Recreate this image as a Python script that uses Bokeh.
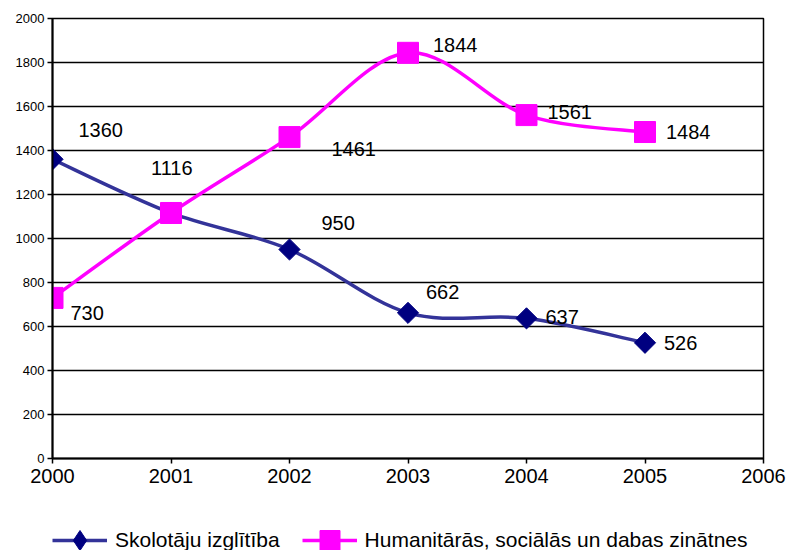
import numpy as np
from bokeh.plotting import figure
from bokeh.layouts import column
from bokeh.models import Legend, LegendItem, ColumnDataSource, FixedTicker, Range1d
from bokeh.core.properties import value
from bokeh.embed import file_html
from bokeh.resources import INLINE

years = [2000, 2001, 2002, 2003, 2004, 2005]
skolotaju = [1360, 1116, 950, 662, 637, 526]
humanitaras = [730, 1116, 1461, 1844, 1561, 1484]
series_names = ["Skolotāju izglītība", "Humanitārās, sociālās un dabas zinātnes"]
# label offsets (px) to mimic the reference label placement
sk_dx = [26, -20, 32, 18, 19, 19]
sk_dy = [-29, -45, -27, -21, -1, 0]
hu_dx = [18, 0, 42, 25, 21, 21]
hu_dy = [15, 0, 12, -8, -3, 0]
hu_show = [True, False, True, True, True, True]
y_ticks = list(range(0, 2001, 200))
x_ticks = list(range(2000, 2007))

FONT = "Liberation Sans"
BLUE_LINE, BLUE_MARK, PINK = "#333399", "#000080", "#FF00FF"
W, H, LH = 795, 495, 55

p = figure(width=W, height=H, output_backend="svg", toolbar_location=None,
           x_range=Range1d(2000, 2006), y_range=Range1d(0, 2000),
           min_border_left=52, min_border_right=W - 763, min_border_top=18, min_border_bottom=H - 458)

p.xgrid.visible = False
p.ygrid.grid_line_color = "black"
p.ygrid.grid_line_width = 1.5
p.ygrid.ticker = FixedTicker(ticks=y_ticks)
p.outline_line_color = "black"
p.outline_line_width = 1.5
p.background_fill_color = "white"
p.border_fill_color = "white"

p.yaxis.ticker = FixedTicker(ticks=y_ticks)
p.xaxis.ticker = FixedTicker(ticks=x_ticks)
for ax in (p.xaxis[0], p.yaxis[0]):
    ax.axis_line_color = "black"
    ax.axis_line_width = 2
    ax.major_tick_line_color = "black"
    ax.major_tick_line_width = 1.5
    ax.major_tick_in = 0
    ax.major_tick_out = 5
    ax.minor_tick_line_color = None
    ax.major_label_text_font = FONT
    ax.major_label_text_color = "black"
p.yaxis.major_label_text_font_size = "13px"
p.yaxis.major_label_standoff = 3
p.xaxis.major_label_text_font_size = "20px"
p.xaxis.major_label_standoff = 5


def smooth(xs, ys):
    xs = np.asarray(xs, float)
    ys = np.asarray(ys, float)
    n = len(xs)
    x0, y0, x1, y1, cx0, cy0, cx1, cy1 = [], [], [], [], [], [], [], []
    for i in range(n - 1):
        ip = max(i - 1, 0)
        inn = min(i + 2, n - 1)
        x0.append(xs[i]); y0.append(ys[i])
        x1.append(xs[i + 1]); y1.append(ys[i + 1])
        cx0.append(xs[i] + (xs[i + 1] - xs[ip]) / 6)
        cy0.append(ys[i] + (ys[i + 1] - ys[ip]) / 6)
        cx1.append(xs[i + 1] - (xs[inn] - xs[i]) / 6)
        cy1.append(ys[i + 1] - (ys[inn] - ys[i]) / 6)
    return ColumnDataSource(dict(x0=x0, y0=y0, x1=x1, y1=y1, cx0=cx0, cy0=cy0, cx1=cx1, cy1=cy1))


p.bezier(x0="x0", y0="y0", x1="x1", y1="y1", cx0="cx0", cy0="cy0", cx1="cx1", cy1="cy1",
         source=smooth(years, skolotaju), line_color=BLUE_LINE, line_width=3.5)
p.bezier(x0="x0", y0="y0", x1="x1", y1="y1", cx0="cx0", cy0="cy0", cx1="cx1", cy1="cy1",
         source=smooth(years, humanitaras), line_color=PINK, line_width=3.5)

p.scatter(years, skolotaju, marker="square", angle=np.pi / 4, size=15,
          fill_color=BLUE_MARK, line_color=BLUE_MARK)
p.scatter(years, humanitaras, marker="square", size=21, fill_color=PINK, line_color=PINK)

sk_src = ColumnDataSource(dict(x=years, y=skolotaju, t=[str(v) for v in skolotaju], dx=sk_dx, dy=sk_dy))
p.text(x="x", y="y", text="t", x_offset="dx", y_offset="dy", source=sk_src,
       text_font=value(FONT), text_font_size="20px", text_color="black",
       text_align="left", text_baseline="middle")
hx = [x for x, s in zip(years, hu_show) if s]
hy = [y for y, s in zip(humanitaras, hu_show) if s]
hdx = [d for d, s in zip(hu_dx, hu_show) if s]
hdy = [d for d, s in zip(hu_dy, hu_show) if s]
hu_src = ColumnDataSource(dict(x=hx, y=hy, t=[str(v) for v in hy], dx=hdx, dy=hdy))
p.text(x="x", y="y", text="t", x_offset="dx", y_offset="dy", source=hu_src,
       text_font=value(FONT), text_font_size="20px", text_color="black",
       text_align="left", text_baseline="middle")

# legend strip below the chart
leg = figure(width=W, height=LH, output_backend="svg", toolbar_location=None,
             x_axis_location=None, y_axis_location=None,
             min_border=0, min_border_left=0, min_border_right=0, min_border_top=0, min_border_bottom=0)
leg.grid.visible = False
leg.outline_line_color = None
lsk_line = leg.line(years, skolotaju, line_color=BLUE_LINE, line_width=3.5, visible=False)
lsk_pts = leg.scatter(years, skolotaju, marker="diamond", size=20,
                      fill_color=BLUE_MARK, line_color=BLUE_MARK, visible=False)
lhu_line = leg.line(years, humanitaras, line_color=PINK, line_width=3.5, visible=False)
lhu_pts = leg.scatter(years, humanitaras, marker="square", size=20,
                      fill_color=PINK, line_color=PINK, visible=False)
legend = Legend(items=[
    LegendItem(label=series_names[0], renderers=[lsk_line, lsk_pts]),
    LegendItem(label=series_names[1], renderers=[lhu_line, lhu_pts]),
], orientation="horizontal", location=(0, -15), click_policy="none",
    label_text_font=FONT, label_text_font_size="21px", label_text_color="black",
    glyph_width=55, glyph_height=50, label_standoff=8, spacing=22,
    border_line_color=None, background_fill_alpha=0, padding=0, margin=0)
leg.add_layout(legend)

layout = column(p, leg, spacing=0)
open("out.html", "w").write(file_html(layout, INLINE))
